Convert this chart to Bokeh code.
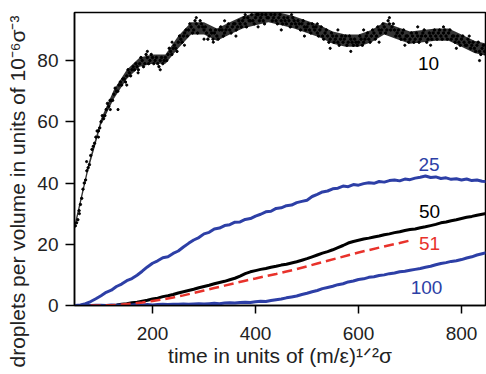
from bokeh.plotting import figure
from bokeh.models import Label, Range1d, FixedTicker, Title
from bokeh.embed import file_html
from bokeh.resources import INLINE

# ---- data ----
# series "10": noisy point cloud (two interleaved readings), its dense core and stray points
ten_x_a = list(range(50, 851, 5))
ten_y_a = [26, 28, 33, 38, 41, 45, 49, 52, 55, 57, 60, 61, 64, 65, 67, 69, 70, 72, 72, 74,
           75, 76, 77, 77, 78, 79, 80, 79, 81, 80, 81, 80, 79, 80, 79, 81, 82, 83, 84, 84,
           86, 87, 88, 90, 90, 91, 90, 92, 91, 92, 90, 89, 88, 89, 89, 88, 90, 90, 89, 91,
           90, 91, 92, 91, 92, 93, 92, 94, 93, 93, 94, 95, 94, 93, 95, 94, 95, 94, 93, 94,
           93, 94, 92, 93, 92, 93, 91, 92, 92, 91, 91, 90, 92, 90, 89, 90, 88, 89, 88, 87,
           88, 87, 86, 87, 86, 88, 86, 87, 85, 86, 86, 87, 86, 88, 87, 88, 89, 88, 90, 90,
           91, 90, 92, 91, 90, 89, 88, 89, 87, 88, 87, 88, 87, 88, 87, 89, 88, 87, 88, 89,
           88, 89, 88, 89, 88, 89, 87, 88, 87, 86, 87, 86, 85, 86, 85, 84, 85, 83, 84, 83,
           84]
ten_x_b = [x + 2.5 for x in range(50, 850, 5)]
ten_y_b = [27, 31, 35, 40, 44, 46, 51, 53, 57, 58, 62, 62, 66, 67, 67, 71, 70, 73, 74, 73,
           77, 75, 78, 79, 77, 81, 78, 82, 79, 82, 79, 81, 78, 81, 80, 80, 84, 82, 85, 83,
           88, 86, 89, 88, 92, 89, 93, 89, 93, 91, 91, 87, 90, 87, 90, 87, 91, 88, 90, 92,
           89, 92, 90, 93, 91, 94, 91, 93, 95, 92, 95, 93, 95, 92, 94, 96, 93, 95, 92, 95,
           92, 93, 94, 91, 94, 92, 93, 90, 93, 90, 92, 89, 91, 91, 88, 91, 87, 90, 86, 89,
           86, 88, 85, 88, 87, 85, 88, 86, 87, 85, 88, 85, 87, 89, 86, 90, 87, 91, 89, 92,
           89, 93, 90, 92, 88, 90, 87, 90, 88, 86, 89, 86, 89, 86, 88, 90, 86, 89, 87, 90,
           87, 90, 87, 90, 87, 90, 88, 86, 88, 85, 88, 85, 87, 84, 86, 83, 86, 82, 85, 82]
band_x = list(range(50, 851, 25))
band_lo = [25.5, 44, 59, 67.5, 74, 78, 79, 79, 84, 88.5, 88.5, 86.5, 88.5, 90.5, 91.5, 92.5,
           91.5, 90.5, 89, 87.5, 85.5, 84.5, 84.5, 86, 88.5, 87, 85.5, 86, 86.5, 86.5, 84.5,
           82.5, 81.5]
band_hi = [27.5, 46, 61, 70.5, 77, 81, 82, 82, 88, 92.5, 92.5, 90.5, 92.5, 94.5, 95.5, 96.5,
           95.5, 94.5, 93, 91.5, 89.5, 88.5, 88.5, 90, 92.5, 91, 89.5, 90, 90.5, 90.5, 88.5,
           86.5, 85.5]
stray_x = [58, 72, 95, 118, 133, 150, 172, 190, 215, 238, 262, 285, 300, 318, 340, 362, 380,
           405, 428, 450, 470, 495, 520, 545, 560, 585, 610, 640, 660, 690, 715, 740, 765,
           790, 815, 835]
stray_y = [30, 47, 55, 64, 64, 72, 76, 83, 77, 86, 85, 94, 87, 86, 93, 88, 95, 91, 96, 90,
           95, 88, 92, 84, 90, 83, 90, 86, 94, 85, 91, 85, 91, 84, 88, 80]

# series "25"
t25_x = list(range(50, 851, 10))
t25_y = [0.0, 0.2, 0.6, 1.3, 2.2, 3.2, 4.3, 5.0, 6.2, 7.0, 8.1, 8.8, 9.9, 11.2, 12.6, 13.8,
         14.6, 15.6, 15.9, 17.0, 17.8, 19.1, 20.3, 21.4, 22.2, 23.4, 23.9, 25.0, 25.3, 26.1,
         26.4, 27.2, 27.3, 28.1, 28.4, 29.2, 29.8, 30.6, 30.8, 31.7, 31.9, 32.6, 32.8, 33.6,
         34.0, 34.4, 35.6, 36.3, 37.1, 37.4, 38.1, 38.3, 39.0, 38.8, 39.5, 39.3, 39.8, 40.1,
         39.9, 40.5, 40.3, 40.8, 41.0, 40.7, 41.3, 41.1, 41.6, 41.9, 42.3, 41.8, 42.0, 41.5,
         41.7, 41.2, 41.4, 41.0, 41.3, 40.8, 41.0, 40.6, 40.5]

# series "100"
t100_x = list(range(50, 851, 10))
t100_y = [0, 0, 0.1, 0, 0.1, 0.1, 0, 0.2, 0.1, 0.2, 0.1, 0.2, 0.3, 0.2, 0.3, 0.2, 0.3, 0.4,
          0.3, 0.4, 0.4, 0.5, 0.4, 0.5, 0.6, 0.5, 0.6, 0.7, 0.6, 0.8, 0.9, 0.8, 1.0, 1.1, 1.0,
          1.2, 1.4, 1.3, 1.6, 1.9, 2.1, 2.5, 2.8, 3.1, 3.6, 4.0, 4.5, 4.9, 5.5, 5.9, 6.3, 6.8,
          7.1, 7.7, 8.0, 8.5, 8.7, 9.2, 9.4, 9.8, 10.0, 10.4, 10.6, 11.0, 11.2, 11.5, 11.8,
          12.1, 12.5, 12.8, 13.3, 13.7, 14.0, 14.4, 14.6, 15.0, 15.5, 15.9, 16.5, 16.9, 17.3]

# series "50"
t50_x = list(range(130, 851, 10))
t50_y = [0.2, 0.4, 0.6, 0.9, 1.1, 1.4, 1.7, 2.1, 2.4, 2.9, 3.2, 3.6, 4.1, 4.5, 4.9, 5.3, 5.8,
         6.2, 6.6, 7.1, 7.5, 7.9, 8.4, 8.9, 9.6, 10.4, 11.0, 11.4, 11.8, 12.1, 12.5, 12.8,
         13.2, 13.5, 13.9, 14.3, 14.8, 15.3, 15.9, 16.5, 17.1, 17.6, 18.2, 18.9, 19.6, 20.4,
         20.9, 21.3, 21.7, 22.0, 22.4, 22.7, 23.1, 23.4, 23.8, 24.1, 24.5, 24.8, 25.0, 25.4,
         25.7, 26.1, 26.5, 27.0, 27.3, 27.7, 28.0, 28.4, 28.8, 29.1, 29.5, 29.8, 30.1]

# series "51" (dashed)
t51_x = [80, 100, 120, 140, 160, 180, 200, 220, 240, 260, 280, 300, 320, 340, 360, 380, 400,
         420, 440, 460, 480, 500, 520, 540, 560, 580, 600, 620, 640, 660, 680, 697]
t51_y = [0, 0, 0.1, 0.3, 0.6, 1.0, 1.5, 2.0, 2.6, 3.3, 4.1, 4.9, 5.7, 6.5, 7.3, 8.1, 8.8,
         9.6, 10.3, 11.1, 11.9, 12.8, 13.7, 14.6, 15.5, 16.4, 17.3, 18.1, 18.9, 19.7, 20.4,
         21.1]

series_labels = ["10", "25", "50", "51", "100"]
label_x = [736, 737, 738, 738, 732]
label_y = [79, 46, 30.7, 20.2, 5.9]

x_ticks = [200, 400, 600, 800]
y_ticks = [0, 20, 40, 60, 80]

x_title = "time in units of (m/\u03b5)\u00b9\u141f\u00b2\u03c3"
y_title = "droplets per volume in units of 10\u207b\u2076\u03c3\u207b\u00b3"

BLUE = "#2d3fa6"
RED = "#e8322b"
BLACK = "#000000"
TXT = "#222222"
FONT = "Liberation Sans"

p = figure(width=486, height=374, output_backend="svg", toolbar_location=None,
           x_range=Range1d(48.5, 846.6), y_range=Range1d(0, 95.7),
           min_border_left=74, min_border_right=1, min_border_top=12, min_border_bottom=69)

p.background_fill_color = "white"
p.border_fill_color = "white"
p.outline_line_color = "black"
p.outline_line_width = 1.5
p.xgrid.visible = False
p.ygrid.visible = False

for ax in (p.xaxis[0], p.yaxis[0]):
    ax.axis_line_width = 1.5
    ax.axis_line_color = "black"
    ax.major_tick_line_width = 1.5
    ax.major_tick_line_color = "black"
    ax.major_tick_in = 0
    ax.minor_tick_line_color = None
    ax.major_label_text_font = FONT
    ax.major_label_text_font_size = "19px"
    ax.major_label_text_color = TXT

p.xaxis.ticker = FixedTicker(ticks=x_ticks)
p.yaxis.ticker = FixedTicker(ticks=y_ticks)
p.xaxis.major_tick_out = 8
p.yaxis.major_tick_out = 9
p.xaxis.major_label_standoff = 13
p.yaxis.major_label_standoff = 7

p.xaxis.axis_label = x_title
p.xaxis.axis_label_text_font = FONT
p.xaxis.axis_label_text_font_size = "21px"
p.xaxis.axis_label_text_font_style = "normal"
p.xaxis.axis_label_text_color = TXT
p.xaxis.axis_label_standoff = 1

p.add_layout(Title(text=y_title, align="left", offset=-62, vertical_align="top",
                   standoff=8, text_font=FONT, text_font_size="21px",
                   text_font_style="normal", text_color=TXT), "left")

# data
p.varea(x=band_x, y1=band_lo, y2=band_hi, fill_color=BLACK, fill_alpha=0.8)
p.scatter(ten_x_a, ten_y_a, size=2.4, color=BLACK, marker="circle")
p.scatter(ten_x_b, ten_y_b, size=2.4, color=BLACK, marker="circle")
p.scatter(stray_x, stray_y, size=2.2, color=BLACK, marker="circle")
p.line(t50_x, t50_y, line_color=BLACK, line_width=3)
p.line(t100_x, t100_y, line_color=BLUE, line_width=3)
p.line(t25_x, t25_y, line_color=BLUE, line_width=3)
p.line(t51_x, t51_y, line_color=RED, line_width=2.5, line_dash="10 5")

label_colors = [BLACK, BLUE, BLACK, RED, BLUE]
for t, lx, ly, c in zip(series_labels, label_x, label_y, label_colors):
    p.add_layout(Label(x=lx, y=ly, text=t, text_color=c, text_font=FONT,
                       text_font_size="19px", text_align="center", text_baseline="middle"))

open("out.html", "w").write(file_html(p, INLINE))
